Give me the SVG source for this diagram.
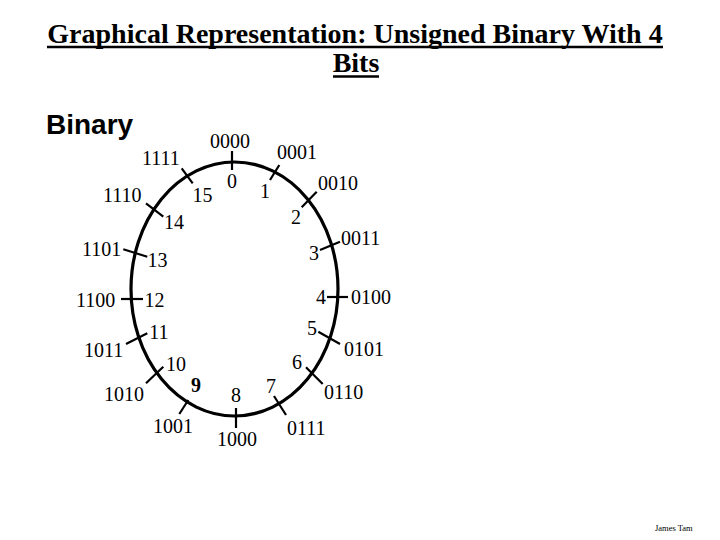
<svg xmlns="http://www.w3.org/2000/svg" width="720" height="540" viewBox="0 0 720 540">
<style>
.title{font-family:"Liberation Serif","Times New Roman",serif;font-weight:bold;font-size:28px;fill:#000}
.head{font-family:"Liberation Sans",Arial,sans-serif;font-weight:bold;font-size:28px;fill:#000}
.bin{font-family:"Liberation Serif","Times New Roman",serif;font-size:20px;fill:#000}
.dec{font-family:"Liberation Serif","Times New Roman",serif;font-size:20px;fill:#000;text-anchor:middle}
.foot{font-family:"Liberation Serif","Times New Roman",serif;font-size:8.5px;fill:#000}
.ring{fill:none;stroke:#000;stroke-width:3.2}
.tick{stroke:#000;stroke-width:2.2;fill:none}
.ul{stroke:#000;stroke-width:2.6}
</style>
<rect width="720" height="540" fill="#fff"/>
<g id="title">
<text class="title" x="355" y="43" text-anchor="middle">Graphical Representation: Unsigned Binary With 4</text>
<text class="title" x="356" y="72" text-anchor="middle">Bits</text>
<line class="ul" x1="47" y1="47" x2="663" y2="47"/>
<line class="ul" x1="333" y1="76.5" x2="379" y2="76.5"/>
</g>
<text class="head" x="46" y="134">Binary</text>
<g id="ring"><ellipse class="ring" cx="234.5" cy="289" rx="103.5" ry="127"/></g>
<g id="connectors">
<line class="tick" x1="232" y1="151" x2="232" y2="170"/>
<line class="tick" x1="279.3" y1="165" x2="270" y2="180"/>
<line class="tick" x1="316.7" y1="191.7" x2="301.7" y2="207.3"/>
<line class="tick" x1="320" y1="250" x2="340" y2="241.7"/>
<line class="tick" x1="327" y1="297" x2="348" y2="297"/>
<line class="tick" x1="318.3" y1="331.7" x2="340" y2="344"/>
<line class="tick" x1="306" y1="367.3" x2="322.7" y2="384"/>
<line class="tick" x1="274" y1="396" x2="286" y2="415"/>
<line class="tick" x1="236" y1="408" x2="236" y2="428"/>
<line class="tick" x1="188.3" y1="400" x2="179.3" y2="414"/>
<line class="tick" x1="163.3" y1="366.7" x2="146" y2="383.3"/>
<line class="tick" x1="147.3" y1="333.3" x2="126" y2="344"/>
<line class="tick" x1="121" y1="299" x2="143" y2="299"/>
<line class="tick" x1="123.3" y1="249.3" x2="147.3" y2="256.7"/>
<line class="tick" x1="146" y1="203.3" x2="163.3" y2="216.7"/>
<line class="tick" x1="181.7" y1="168.3" x2="192.7" y2="183.3"/>
</g>
<g id="n0"><text class="bin" x="210" y="148">0000</text><text class="dec" x="232" y="188">0</text></g>
<g id="n1"><text class="bin" x="277" y="159">0001</text><text class="dec" x="265" y="198">1</text></g>
<g id="n2"><text class="bin" x="318" y="190">0010</text><text class="dec" x="296" y="224">2</text></g>
<g id="n3"><text class="bin" x="341" y="245">0011</text><text class="dec" x="314" y="260">3</text></g>
<g id="n4"><text class="bin" x="351" y="304">0100</text><text class="dec" x="321" y="304">4</text></g>
<g id="n5"><text class="bin" x="344" y="356">0101</text><text class="dec" x="312" y="335">5</text></g>
<g id="n6"><text class="bin" x="324" y="399">0110</text><text class="dec" x="297" y="369">6</text></g>
<g id="n7"><text class="bin" x="287" y="435">0111</text><text class="dec" x="271" y="393">7</text></g>
<g id="n8"><text class="bin" x="217" y="446">1000</text><text class="dec" x="236" y="402">8</text></g>
<g id="n9"><text class="bin" x="153" y="433">1001</text><text class="dec" x="196" y="392" font-weight="bold">9</text></g>
<g id="n10"><text class="bin" x="104" y="401">1010</text><text class="dec" x="176" y="371">10</text></g>
<g id="n11"><text class="bin" x="84" y="357">1011</text><text class="dec" x="159" y="339">11</text></g>
<g id="n12"><text class="bin" x="76" y="307">1100</text><text class="dec" x="154.5" y="307">12</text></g>
<g id="n13"><text class="bin" x="82" y="256">1101</text><text class="dec" x="157.5" y="267">13</text></g>
<g id="n14"><text class="bin" x="103" y="202">1110</text><text class="dec" x="174" y="229">14</text></g>
<g id="n15"><text class="bin" x="142" y="165">1111</text><text class="dec" x="202.5" y="202">15</text></g>
<text class="foot" x="655" y="531">James Tam</text>
</svg>
